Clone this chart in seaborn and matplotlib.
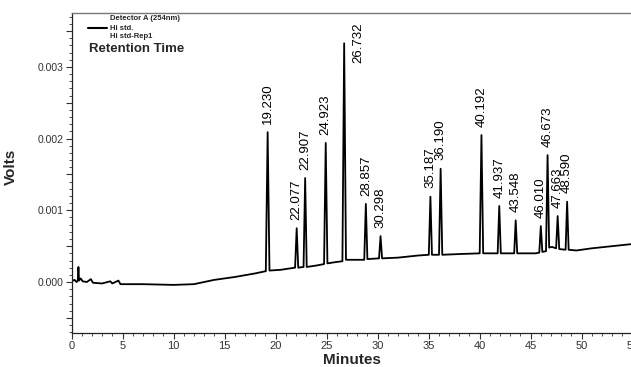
import numpy as np
import pandas as pd
import matplotlib
matplotlib.use('Agg')
import matplotlib.pyplot as plt
from matplotlib.ticker import MultipleLocator, FuncFormatter
import seaborn as sns

# Chromatogram trace (minutes, volts)
trace_min = [0.0, 0.3, 0.5, 0.62, 0.68, 0.74, 0.9, 1.1, 1.5, 1.9, 2.1, 3.0, 3.8, 4.0, 4.6, 4.8,
             7.0, 10.0, 12.0, 14.0, 16.0, 18.0, 19.0,
             19.05, 19.23, 19.41, 20.5, 21.9,
             21.92, 22.077, 22.23,
             22.75, 22.907, 23.06, 24.0,
             24.76, 24.923, 25.09, 26.0,
             26.56, 26.732, 26.91, 28.0,
             28.7, 28.857, 29.01,
             30.15, 30.298, 30.45, 32.0, 34.0,
             35.03, 35.187, 35.34,
             36.03, 36.19, 36.35, 38.0,
             40.02, 40.192, 40.36, 41.0,
             41.78, 41.937, 42.09,
             43.4, 43.548, 43.7, 45.5,
             45.86, 46.01, 46.16,
             46.52, 46.673, 46.83, 47.1,
             47.51, 47.663, 47.82,
             48.44, 48.59, 48.74,
             49.5, 51.0, 53.0, 55.0]
trace_volts = [0.00001, 0.00003, 0.0, 0.00002, 0.00021, 0.00002, 0.00005, 0.00001, 0.0, 0.00004, -0.00001, -0.00002, 0.00001, -0.00002, 0.00002, -0.00003,
               -0.00003, -0.00004, -0.00003, 0.00003, 0.00007, 0.00012, 0.00015,
               0.00015, 0.00209, 0.00016, 0.00017, 0.0002,
               0.0002, 0.00075, 0.0002,
               0.00021, 0.00145, 0.00021, 0.00023,
               0.00025, 0.00194, 0.00026, 0.00028,
               0.00029, 0.00333, 0.00031, 0.00031,
               0.00031, 0.00109, 0.00032,
               0.00033, 0.00064, 0.00033, 0.00034, 0.00037,
               0.00038, 0.00119, 0.00038,
               0.00038, 0.00158, 0.00038, 0.00039,
               0.0004, 0.00205, 0.0004, 0.0004,
               0.0004, 0.00106, 0.0004,
               0.0004, 0.00086, 0.0004, 0.0004,
               0.00041, 0.00078, 0.00042,
               0.00043, 0.00177, 0.00048, 0.00049,
               0.00047, 0.00092, 0.00046,
               0.00045, 0.00112, 0.00045,
               0.00044, 0.00047, 0.0005, 0.00053]

# Labelled peaks
peak_labels = ['19.230', '22.077', '22.907', '24.923', '26.732', '28.857', '30.298', '35.187',
               '36.190', '40.192', '41.937', '43.548', '46.010', '46.673', '47.663', '48.590']
peak_tops = [0.00209, 0.00075, 0.00145, 0.00194, 0.00333, 0.00109, 0.00064, 0.00119,
             0.00158, 0.00205, 0.00106, 0.00086, 0.00078, 0.00177, 0.00092, 0.00112]

FONT = ['Liberation Sans', 'DejaVu Sans']

sns.set_style('ticks')
plt.rcParams['font.family'] = FONT

fig = plt.figure(figsize=(6.31, 3.67), dpi=100)
ax = fig.add_axes([71.5 / 631, 1 - 333 / 367, 561 / 631, 320 / 367])

df = pd.DataFrame({'Minutes': trace_min, 'Volts': trace_volts})
sns.lineplot(data=df, x='Minutes', y='Volts', color='black', lw=1.3, sort=False,
             estimator=None, ax=ax)

# peak retention time labels
for lab, top in zip(peak_labels, peak_tops):
    rt = float(lab)
    offset = (0, 6)
    if lab == '26.732':
        offset = (10, -14)
    ax.annotate(lab, (rt, top), xytext=offset, textcoords='offset points',
                rotation=90, ha='center', va='bottom', fontsize=9.5, color='black')

ax.set_xlim(0, 55)
ax.set_ylim(-0.000711, 0.003752)

ax.xaxis.set_major_locator(MultipleLocator(5))
ax.xaxis.set_minor_locator(MultipleLocator(1))
ax.yaxis.set_major_locator(MultipleLocator(0.0005))
ax.yaxis.set_minor_locator(MultipleLocator(0.0001))
ax.yaxis.set_major_formatter(FuncFormatter(
    lambda v, p: '%.3f' % v if abs(round(v * 1000) - v * 1000) < 1e-6 else ''))
ax.tick_params(axis='both', which='major', direction='out', length=4, width=0.8,
               labelsize=8, labelcolor='#333333', color='#333333', pad=2)
ax.tick_params(axis='both', which='minor', direction='out', length=2, width=0.6,
               color='#333333')
ax.tick_params(axis='y', labelsize=7.5)

for side in ['left', 'bottom']:
    ax.spines[side].set_color('#222222')
    ax.spines[side].set_linewidth(0.9)
ax.spines['top'].set_color('#777777')
ax.spines['top'].set_linewidth(1.0)
ax.spines['right'].set_visible(False)

ax.set_xlabel('Minutes', fontsize=11, fontweight='bold')
ax.set_ylabel('Volts', fontsize=11, fontweight='bold')
ax.xaxis.set_label_coords(0.5, -0.063)
ax.yaxis.set_label_coords(-0.095, 0.52)

# legend-like header
ax.text(0.0687, 0.984, 'Detector A (254nm)', transform=ax.transAxes, fontsize=5.5,
        fontweight='bold', va='center', ha='left')
ax.plot([0.029, 0.063], [0.953, 0.953], color='black', lw=1.5, transform=ax.transAxes)
ax.text(0.0687, 0.953, 'Hi std.', transform=ax.transAxes, fontsize=5.5,
        fontweight='bold', va='center', ha='left')
ax.text(0.0687, 0.925, 'Hi std-Rep1', transform=ax.transAxes, fontsize=5.5,
        fontweight='bold', va='center', ha='left')
ax.text(0.031, 0.8875, 'Retention Time', transform=ax.transAxes, fontsize=9.5,
        fontweight='bold', va='center', ha='left')

fig.savefig('out.png', dpi=100)
